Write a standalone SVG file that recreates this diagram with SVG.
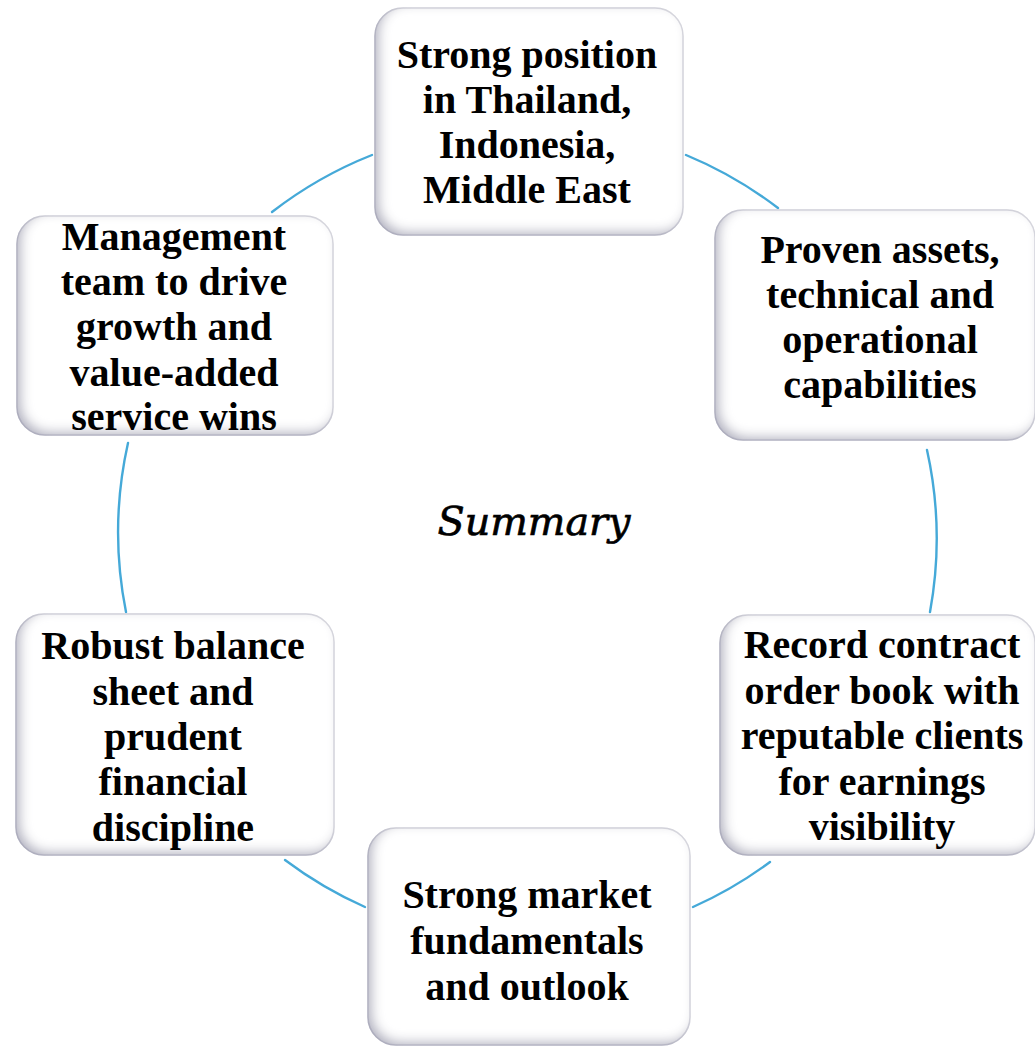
<svg xmlns="http://www.w3.org/2000/svg" width="1035" height="1048" viewBox="0 0 1035 1048">
<defs>
<filter id="bevel" x="-8%" y="-8%" width="116%" height="116%">
<feComponentTransfer in="SourceAlpha" result="inv"><feFuncA type="table" tableValues="1 0"/></feComponentTransfer>
<feOffset in="inv" dx="5" dy="-4" result="off"/>
<feGaussianBlur in="off" stdDeviation="6" result="blur"/>
<feFlood flood-color="#8a8aa4" flood-opacity="0.75" result="col"/>
<feComposite in="col" in2="blur" operator="in" result="sh"/>
<feComposite in="sh" in2="SourceAlpha" operator="in" result="ish"/>
<feMerge><feMergeNode in="SourceGraphic"/><feMergeNode in="ish"/></feMerge>
</filter>
<style>
.box{fill:#ffffff;stroke:#dcdce2;stroke-width:1.5;filter:url(#bevel)}
.lbl{font-family:"Liberation Serif","Times New Roman",serif;font-weight:bold;font-size:40px;fill:#000;text-anchor:middle}
.arc{fill:none;stroke:#45a9d8;stroke-width:2.4;stroke-linecap:round}
.title{font-family:"DejaVu Serif","Liberation Serif",serif;font-style:italic;font-size:40px;fill:#000;stroke:#000;stroke-width:0.7;text-anchor:middle}
</style>
</defs>
<rect width="1035" height="1048" fill="#ffffff"/>
<g id="connectors">
<path class="arc" d="M 686 155 A 409 409 0 0 1 778 208"/>
<path class="arc" d="M 927 450 A 409 409 0 0 1 930 612"/>
<path class="arc" d="M 770 862 A 409 409 0 0 1 693 907"/>
<path class="arc" d="M 365 907 A 409 409 0 0 1 285 860"/>
<path class="arc" d="M 126 612 A 409 409 0 0 1 128 443"/>
<path class="arc" d="M 272 212 A 409 409 0 0 1 372 155"/>
</g>
<g id="node-top">
<rect class="box" x="375" y="8" width="308" height="227" rx="28"/>
<text class="lbl" x="527" y="68">Strong position</text>
<text class="lbl" x="527" y="113">in Thailand,</text>
<text class="lbl" x="527" y="158">Indonesia,</text>
<text class="lbl" x="527" y="203">Middle East</text>
</g>
<g id="node-right-top">
<rect class="box" x="715" y="210" width="320" height="230" rx="28"/>
<text class="lbl" x="880" y="263">Proven assets,</text>
<text class="lbl" x="880" y="308">technical and</text>
<text class="lbl" x="880" y="353">operational</text>
<text class="lbl" x="880" y="398">capabilities</text>
</g>
<g id="node-right-bottom">
<rect class="box" x="720" y="615" width="315" height="240" rx="28"/>
<text class="lbl" x="882" y="658">Record contract</text>
<text class="lbl" x="882" y="704">order book with</text>
<text class="lbl" x="882" y="749">reputable clients</text>
<text class="lbl" x="882" y="795">for earnings</text>
<text class="lbl" x="882" y="840">visibility</text>
</g>
<g id="node-bottom">
<rect class="box" x="368" y="828" width="322" height="217" rx="28"/>
<text class="lbl" x="527" y="908">Strong market</text>
<text class="lbl" x="527" y="954">fundamentals</text>
<text class="lbl" x="527" y="1000">and outlook</text>
</g>
<g id="node-left-bottom">
<rect class="box" x="16" y="614" width="318" height="241" rx="28"/>
<text class="lbl" x="173" y="659">Robust balance</text>
<text class="lbl" x="173" y="705">sheet and</text>
<text class="lbl" x="173" y="750">prudent</text>
<text class="lbl" x="173" y="795">financial</text>
<text class="lbl" x="173" y="841">discipline</text>
</g>
<g id="node-left-top">
<rect class="box" x="17" y="216" width="316" height="219" rx="28"/>
<text class="lbl" x="174" y="250">Management</text>
<text class="lbl" x="174" y="295">team to drive</text>
<text class="lbl" x="174" y="340">growth and</text>
<text class="lbl" x="174" y="386">value-added</text>
<text class="lbl" x="174" y="430">service wins</text>
</g>
<g id="title">
<text class="title" x="534" y="535" textLength="193" lengthAdjust="spacingAndGlyphs">Summary</text>
</g>
</svg>
